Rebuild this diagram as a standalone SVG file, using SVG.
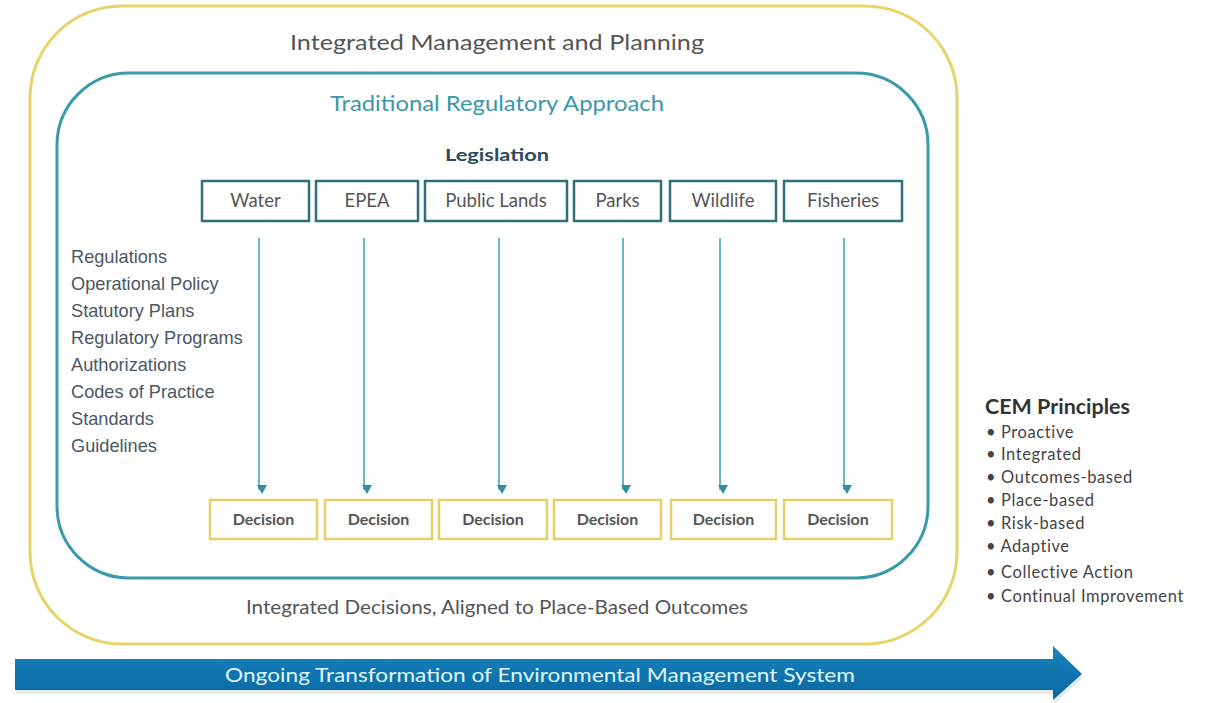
<svg xmlns="http://www.w3.org/2000/svg" width="1206" height="703" viewBox="0 0 1206 703">
<style>
.t{font-family:Lato,"Open Sans","Liberation Sans",sans-serif}
.a{font-family:"Liberation Sans",Arial,sans-serif}
.box{fill:#fff;stroke:#2e6f7a;stroke-width:2.5}
.dec{fill:#fff;stroke:#e6d067;stroke-width:2.5}
.lbl{font-size:18.5px;fill:#555;text-anchor:middle}
.dlbl{font-size:16px;font-weight:700;fill:#555;text-anchor:middle}
.list{font-size:18.2px;fill:#4a5865}
.cem{font-size:16.5px;fill:#444;letter-spacing:0.6px}
.conn line{stroke:#4aa3b3;stroke-width:1.6}
</style>
<defs>
<marker id="ah" markerWidth="10" markerHeight="10" refX="5" refY="8" orient="auto-start-reverse" markerUnits="userSpaceOnUse" viewBox="0 0 10 10">
<path d="M0,0 L10,0 L5,9 Z" fill="#2f8f9a" transform="rotate(-90 5 5)"/>
</marker>
<linearGradient id="bg" x1="0" y1="0" x2="0" y2="1">
<stop offset="0" stop-color="#1784bf"/>
<stop offset="1" stop-color="#0a679f"/>
</linearGradient>
</defs>
<rect width="1206" height="703" fill="#fff"/>

<g id="outer">
<rect x="30" y="6" width="927" height="638" rx="92" ry="92" fill="none" stroke="#e8d36a" stroke-width="3"/>
<text class="t" x="497" y="50" font-size="21" fill="#555" text-anchor="middle" textLength="414" lengthAdjust="spacingAndGlyphs">Integrated Management and Planning</text>
<text class="t" x="497" y="614" font-size="19" fill="#555" text-anchor="middle" textLength="502" lengthAdjust="spacingAndGlyphs">Integrated Decisions, Aligned to Place-Based Outcomes</text>
</g>

<g id="inner">
<rect x="57" y="73" width="871" height="505" rx="72" ry="72" fill="none" stroke="#3a9aaa" stroke-width="3"/>
<text class="t" x="497" y="111" font-size="22" fill="#3a98a8" text-anchor="middle" textLength="334" lengthAdjust="spacingAndGlyphs">Traditional Regulatory Approach</text>
<text class="t" x="497" y="161" font-size="17" font-weight="700" fill="#2b4a5a" text-anchor="middle" textLength="104" lengthAdjust="spacingAndGlyphs">Legislation</text>
</g>

<g id="legislation">
<g id="n-water"><rect class="box" x="202" y="181" width="107" height="40"/><text class="t lbl" x="255.5" y="207">Water</text></g>
<g id="n-epea"><rect class="box" x="316" y="181" width="102" height="40"/><text class="t lbl" x="367" y="207">EPEA</text></g>
<g id="n-public"><rect class="box" x="425" y="181" width="142" height="40"/><text class="t lbl" x="496" y="207">Public Lands</text></g>
<g id="n-parks"><rect class="box" x="574" y="181" width="87" height="40"/><text class="t lbl" x="617.5" y="207">Parks</text></g>
<g id="n-wildlife"><rect class="box" x="670" y="181" width="106" height="40"/><text class="t lbl" x="723" y="207">Wildlife</text></g>
<g id="n-fisheries"><rect class="box" x="784" y="181" width="118" height="40"/><text class="t lbl" x="843" y="207">Fisheries</text></g>
</g>

<g id="decisions">
<g id="d1"><rect class="dec" x="210" y="500" width="107" height="39"/><text class="t dlbl" x="263.5" y="525">Decision</text></g>
<g id="d2"><rect class="dec" x="325" y="500" width="107" height="39"/><text class="t dlbl" x="378.5" y="525">Decision</text></g>
<g id="d3"><rect class="dec" x="439" y="500" width="108" height="39"/><text class="t dlbl" x="493" y="525">Decision</text></g>
<g id="d4"><rect class="dec" x="554" y="500" width="107" height="39"/><text class="t dlbl" x="607.5" y="525">Decision</text></g>
<g id="d5"><rect class="dec" x="671" y="500" width="105" height="39"/><text class="t dlbl" x="723.5" y="525">Decision</text></g>
<g id="d6"><rect class="dec" x="784" y="500" width="108" height="39"/><text class="t dlbl" x="838" y="525">Decision</text></g>
</g>

<g id="connectors" class="conn">
<line x1="259" y1="238" x2="259" y2="490" marker-end="url(#ah)"/>
<line x1="364" y1="238" x2="364" y2="490" marker-end="url(#ah)"/>
<line x1="499" y1="238" x2="499" y2="490" marker-end="url(#ah)"/>
<line x1="623" y1="238" x2="623" y2="490" marker-end="url(#ah)"/>
<line x1="720" y1="238" x2="720" y2="490" marker-end="url(#ah)"/>
<line x1="844" y1="238" x2="844" y2="490" marker-end="url(#ah)"/>
</g>

<g id="instruments">
<text class="a list" x="71" y="263">Regulations</text>
<text class="a list" x="71" y="290">Operational Policy</text>
<text class="a list" x="71" y="317">Statutory Plans</text>
<text class="a list" x="71" y="344">Regulatory Programs</text>
<text class="a list" x="71" y="371">Authorizations</text>
<text class="a list" x="71" y="398">Codes of Practice</text>
<text class="a list" x="71" y="425">Standards</text>
<text class="a list" x="71" y="452">Guidelines</text>
</g>

<g id="cem">
<text class="t" x="985" y="414" font-size="20" font-weight="700" fill="#333" textLength="145" lengthAdjust="spacingAndGlyphs">CEM Principles</text>
<text class="t cem" x="986" y="438">• Proactive</text>
<text class="t cem" x="986" y="460">• Integrated</text>
<text class="t cem" x="986" y="483">• Outcomes-based</text>
<text class="t cem" x="986" y="506">• Place-based</text>
<text class="t cem" x="986" y="529">• Risk-based</text>
<text class="t cem" x="986" y="552">• Adaptive</text>
<text class="t cem" x="986" y="578">• Collective Action</text>
<text class="t cem" x="986" y="602">• Continual Improvement</text>
</g>

<g id="transformation">
<polygon points="15,661 1053,661 1053,648 1082,676 1053,702 1053,692 15,692" fill="#c9d7df" opacity="0.5" transform="translate(1,2)"/>
<polygon points="15,659 1053,659 1053,646 1082,674 1053,700 1053,690 15,690" fill="url(#bg)"/>
<text class="t" x="540" y="682" font-size="20" fill="#dff6ff" text-anchor="middle" textLength="630" lengthAdjust="spacingAndGlyphs">Ongoing Transformation of Environmental Management System</text>
</g>
</svg>
